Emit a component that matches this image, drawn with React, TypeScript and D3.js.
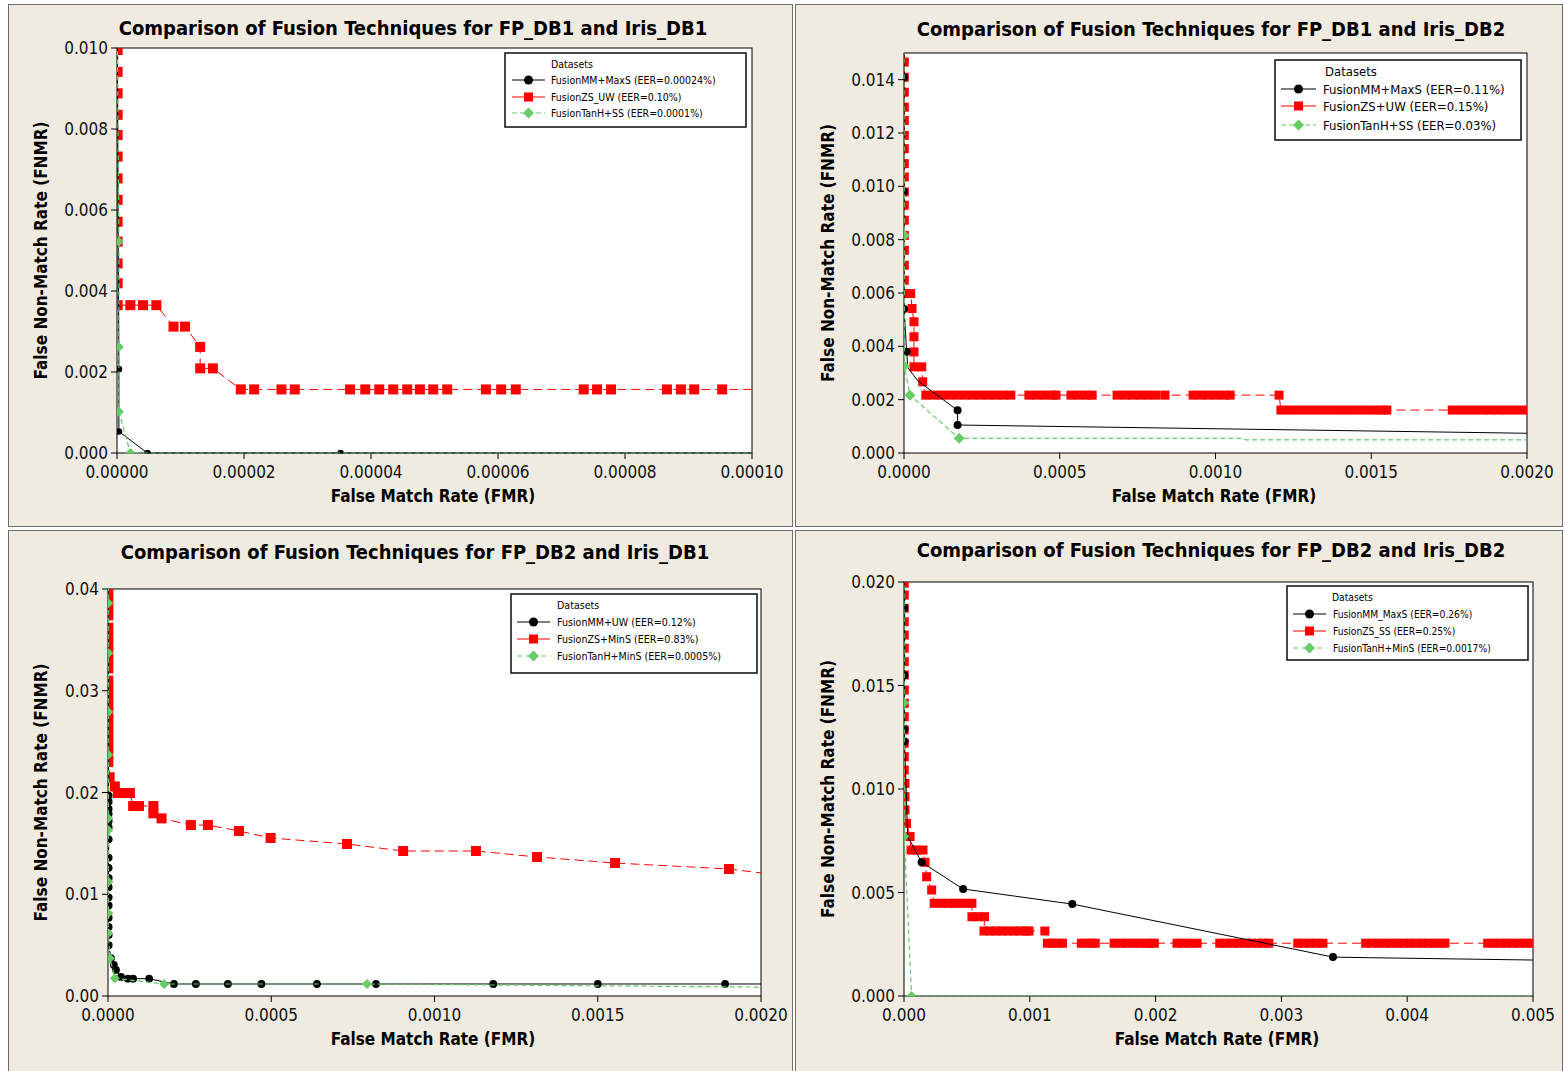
import React from "react";
import * as d3 from "d3";

type Pt = [number, number, number]; // [FMR, FNMR, marker shown]

// ---------------- Panel 1 : FP_DB1 / Iris_DB1 ----------------
const p1Title = "Comparison of Fusion Techniques for FP_DB1 and Iris_DB1";
const p1XTicks = [0, 0.00002, 0.00004, 0.00006, 0.00008, 0.0001];
const p1YTicks = [0, 0.002, 0.004, 0.006, 0.008, 0.01];
const p1Names = ["FusionMM+MaxS (EER=0.00024%)", "FusionZS_UW (EER=0.10%)", "FusionTanH+SS (EER=0.0001%)"];
const p1Black: Pt[] = [
  [0, 0.0115, 0], [0.0000003, 0.00207, 1], [0.0000003, 0.00053, 1], [0.0000048, 0, 1], [0.0000352, 0, 1], [0.00012, 0, 0],
];
const p1Red: Pt[] = [
  [0.0000001, 0.0105, 0], [0.0000001, 0.00995, 1], [0.0000001, 0.00941, 1], [0.0000001, 0.00888, 1], [0.0000001, 0.00835, 1],
  [0.0000001, 0.00785, 1], [0.0000001, 0.00732, 1], [0.0000001, 0.00678, 1], [0.0000001, 0.00625, 1], [0.0000001, 0.00571, 1],
  [0.0000001, 0.00522, 1], [0.0000001, 0.00468, 1], [0.0000001, 0.00419, 1], [0.0000001, 0.00365, 1],
  [0.0000021, 0.00365, 1], [0.0000041, 0.00365, 1], [0.0000062, 0.00365, 1],
  [0.0000089, 0.00312, 1], [0.0000107, 0.00312, 1], [0.0000131, 0.00262, 1], [0.0000131, 0.00209, 1], [0.0000151, 0.00209, 1],
  [0.0000195, 0.00157, 1], [0.0000216, 0.00157, 1], [0.0000259, 0.00157, 1], [0.000028, 0.00157, 1],
  [0.0000367, 0.00157, 1], [0.0000391, 0.00157, 1], [0.0000413, 0.00157, 1], [0.0000435, 0.00157, 1],
  [0.0000457, 0.00157, 1], [0.0000477, 0.00157, 1], [0.0000498, 0.00157, 1], [0.000052, 0.00157, 1],
  [0.0000581, 0.00157, 1], [0.0000605, 0.00157, 1], [0.0000628, 0.00157, 1],
  [0.0000735, 0.00157, 1], [0.0000756, 0.00157, 1], [0.0000778, 0.00157, 1],
  [0.0000866, 0.00157, 1], [0.0000888, 0.00157, 1], [0.0000909, 0.00157, 1], [0.0000953, 0.00157, 1],
  [0.00011, 0.00157, 0],
];
const p1Green: Pt[] = [
  [0, 0.0115, 0], [0.0000003, 0.00522, 1], [0.0000003, 0.00262, 1], [0.0000003, 0.00102, 1], [0.0000021, 0, 1], [0.00012, 0, 0],
];

// ---------------- Panel 2 : FP_DB1 / Iris_DB2 ----------------
const p2Title = "Comparison of Fusion Techniques for FP_DB1 and Iris_DB2";
const p2XTicks = [0, 0.0005, 0.001, 0.0015, 0.002];
const p2YTicks = [0, 0.002, 0.004, 0.006, 0.008, 0.01, 0.012, 0.014];
const p2Names = ["FusionMM+MaxS (EER=0.11%)", "FusionZS+UW (EER=0.15%)", "FusionTanH+SS (EER=0.03%)"];
const p2Black: Pt[] = [
  [0, 0.016, 0], [0.0000002, 0.01409, 1], [0.0000002, 0.0098, 1], [0.0000002, 0.0054, 1], [0.0000086, 0.0038, 1],
  [0.000012, 0.0032, 0], [0.000045, 0.0027, 0], [0.000172, 0.0016, 1], [0.000172, 0.00105, 1], [0.0025, 0.000655, 0],
];
const p2Red: Pt[] = [
  [0.000001, 0.0155, 0], [0.000001, 0.01466, 1], [0.000001, 0.01409, 1], [0.000001, 0.01353, 1], [0.000001, 0.01297, 1],
  [0.000001, 0.01247, 1], [0.000001, 0.01191, 1], [0.000001, 0.01141, 1], [0.000001, 0.01085, 1], [0.000001, 0.01035, 1],
  [0.000001, 0.00979, 1], [0.000001, 0.00929, 1], [0.000001, 0.00873, 1], [0.000001, 0.00816, 1], [0.000001, 0.0076, 1],
  [0.000001, 0.00704, 1], [0.000001, 0.00648, 1], [0.000001, 0.00598, 1],
  [0.0000215, 0.00598, 1], [0.0000257, 0.00542, 1], [0.000032, 0.00492, 1], [0.000032, 0.00436, 1], [0.000032, 0.00379, 1],
  [0.000032, 0.00323, 1], [0.0000568, 0.00323, 1], [0.00006, 0.00267, 1], [0.00007, 0.00217, 1],
  [0.000095, 0.00217, 1], [0.00012, 0.00217, 1], [0.000145, 0.00217, 1], [0.00017, 0.00217, 1], [0.000195, 0.00217, 1],
  [0.00022, 0.00217, 1], [0.000245, 0.00217, 1], [0.00027, 0.00217, 1], [0.000295, 0.00217, 1], [0.00032, 0.00217, 1],
  [0.000343, 0.00217, 1],
  [0.000401, 0.00217, 1], [0.000426, 0.00217, 1], [0.000451, 0.00217, 1], [0.000476, 0.00217, 1], [0.000488, 0.00217, 1],
  [0.000536, 0.00217, 1], [0.00056, 0.00217, 1], [0.000585, 0.00217, 1], [0.000604, 0.00217, 1],
  [0.000684, 0.00217, 1], [0.000709, 0.00217, 1], [0.000734, 0.00217, 1], [0.000759, 0.00217, 1], [0.000784, 0.00217, 1],
  [0.000809, 0.00217, 1], [0.000838, 0.00217, 1],
  [0.000928, 0.00217, 1], [0.000953, 0.00217, 1], [0.000978, 0.00217, 1], [0.001003, 0.00217, 1], [0.001028, 0.00217, 1],
  [0.001047, 0.00217, 1],
  [0.001204, 0.00217, 1],
  [0.00121, 0.00161, 1], [0.001235, 0.00161, 1], [0.00126, 0.00161, 1], [0.001285, 0.00161, 1], [0.00131, 0.00161, 1],
  [0.001335, 0.00161, 1], [0.00136, 0.00161, 1], [0.001385, 0.00161, 1], [0.00141, 0.00161, 1], [0.001435, 0.00161, 1],
  [0.00146, 0.00161, 1], [0.001485, 0.00161, 1], [0.00151, 0.00161, 1], [0.001535, 0.00161, 1], [0.00155, 0.00161, 1],
  [0.00176, 0.00161, 1], [0.001785, 0.00161, 1], [0.00181, 0.00161, 1], [0.001835, 0.00161, 1], [0.00186, 0.00161, 1],
  [0.001885, 0.00161, 1], [0.00191, 0.00161, 1], [0.001935, 0.00161, 1], [0.00196, 0.00161, 1], [0.001985, 0.00161, 1],
  [0.00201, 0.00161, 1], [0.0021, 0.00161, 0],
];
const p2Green: Pt[] = [
  [0, 0.016, 0], [0.000001, 0.00816, 1], [0.000001, 0.00326, 1], [0.000019, 0.00217, 1], [0.000177, 0.00055, 1],
  [0.00108, 0.00055, 0], [0.0011, 0.00049, 0], [0.0025, 0.00049, 0],
];

// ---------------- Panel 3 : FP_DB2 / Iris_DB1 ----------------
const p3Title = "Comparison of Fusion Techniques for FP_DB2 and Iris_DB1";
const p3XTicks = [0, 0.0005, 0.001, 0.0015, 0.002];
const p3YTicks = [0, 0.01, 0.02, 0.03, 0.04];
const p3Names = ["FusionMM+UW (EER=0.12%)", "FusionZS+MinS (EER=0.83%)", "FusionTanH+MinS (EER=0.0005%)"];
const p3Black: Pt[] = [
  [0, 0.045, 0], [0.000002, 0.0197, 1], [0.000002, 0.0191, 1], [0.000002, 0.0184, 1], [0.000002, 0.0179, 1],
  [0.000002, 0.0172, 1], [0.000002, 0.0166, 1], [0.000002, 0.0154, 1], [0.000002, 0.0136, 1], [0.000002, 0.0126, 1],
  [0.000002, 0.0116, 1], [0.000002, 0.0107, 1], [0.000002, 0.0097, 1], [0.000002, 0.0089, 1], [0.000002, 0.0077, 1],
  [0.000002, 0.0068, 1], [0.000002, 0.006, 1], [0.000002, 0.005, 1],
  [0.0000092, 0.00373, 1], [0.000018, 0.00305, 1], [0.0000245, 0.00256, 1], [0.00004, 0.00187, 1],
  [0.000061, 0.0017, 1], [0.000077, 0.0017, 1], [0.000126, 0.0017, 1],
  [0.000202, 0.00118, 1], [0.000269, 0.00118, 1], [0.000367, 0.00118, 1], [0.00047, 0.00118, 1], [0.00064, 0.00118, 1],
  [0.000821, 0.00118, 1], [0.00118, 0.00118, 1], [0.0015, 0.00118, 1], [0.00189, 0.00118, 1], [0.0025, 0.00118, 0],
];
const p3Red: Pt[] = [
  [0.000001, 0.0415, 0], [0.000001, 0.0398, 1], [0.000001, 0.039, 1], [0.000001, 0.0382, 1], [0.000001, 0.0374, 1],
  [0.000001, 0.0362, 1], [0.000001, 0.0354, 1], [0.000001, 0.0346, 1], [0.000001, 0.0338, 1], [0.000001, 0.033, 1],
  [0.000001, 0.0322, 1], [0.000001, 0.031, 1], [0.000001, 0.0302, 1], [0.000001, 0.0294, 1], [0.000001, 0.0286, 1],
  [0.000001, 0.0278, 1], [0.000001, 0.027, 1], [0.000001, 0.0262, 1], [0.000001, 0.0254, 1], [0.000001, 0.0246, 1],
  [0.000001, 0.0238, 1], [0.000001, 0.023, 1],
  [0.000005, 0.0215, 1], [0.000021, 0.0206, 1], [0.00003, 0.01995, 1], [0.000052, 0.01995, 1], [0.000067, 0.01995, 1],
  [0.000077, 0.01867, 1], [0.000095, 0.01867, 1], [0.000139, 0.01867, 1], [0.000139, 0.01795, 1], [0.000164, 0.01746, 1],
  [0.000254, 0.0168, 1], [0.000306, 0.0168, 1], [0.000401, 0.01622, 1], [0.000498, 0.01553, 1], [0.000732, 0.01494, 1],
  [0.000904, 0.01425, 1], [0.001127, 0.01425, 1], [0.001314, 0.01366, 1], [0.001553, 0.01307, 1], [0.001902, 0.01248, 1],
  [0.0021, 0.0117, 0],
];
const p3Green: Pt[] = [
  [0, 0.045, 0], [0.000001, 0.0386, 1], [0.000001, 0.0337, 1], [0.000001, 0.0279, 1], [0.000001, 0.0237, 1],
  [0.000001, 0.01746, 1], [0.000001, 0.01631, 1], [0.000001, 0.01123, 1], [0.000001, 0.00813, 1], [0.000001, 0.00616, 1],
  [0.000006, 0.0037, 1], [0.000021, 0.00174, 1], [0.000172, 0.00118, 1], [0.000793, 0.00118, 1],
  [0.0009, 0.00115, 0], [0.0025, 0.00075, 0],
];

// ---------------- Panel 4 : FP_DB2 / Iris_DB2 ----------------
const p4Title = "Comparison of Fusion Techniques for FP_DB2 and Iris_DB2";
const p4XTicks = [0, 0.001, 0.002, 0.003, 0.004, 0.005];
const p4YTicks = [0, 0.005, 0.01, 0.015, 0.02];
const p4Names = ["FusionMM_MaxS (EER=0.26%)", "FusionZS_SS (EER=0.25%)", "FusionTanH+MinS (EER=0.0017%)"];
const p4Black: Pt[] = [
  [0, 0.021, 0], [0.000004, 0.01874, 1], [0.000004, 0.0155, 1], [0.000004, 0.0129, 1], [0.000004, 0.0123, 1],
  [0.00003, 0.0077, 0], [0.00014, 0.00646, 1], [0.00047, 0.00517, 1], [0.001338, 0.00444, 1], [0.00341, 0.00188, 1],
  [0.0037, 0.00185, 0], [0.0052, 0.00172, 0],
];
const p4Red: Pt[] = [
  [0.000002, 0.021, 0], [0.000002, 0.01994, 1], [0.000002, 0.01937, 1], [0.000002, 0.01873, 1], [0.000002, 0.01808, 1],
  [0.000002, 0.01744, 1], [0.000002, 0.0168, 1], [0.000002, 0.01615, 1], [0.000002, 0.01551, 1], [0.000002, 0.01478, 1],
  [0.000002, 0.01414, 1], [0.000002, 0.01349, 1], [0.000002, 0.01285, 1], [0.000002, 0.01221, 1], [0.000002, 0.01156, 1],
  [0.000002, 0.01092, 1], [0.000008, 0.01027, 1], [0.000008, 0.00963, 1], [0.000008, 0.00899, 1], [0.00002, 0.00834, 1],
  [0.000048, 0.0077, 1],
  [0.000056, 0.00705, 1], [0.0001, 0.00705, 1], [0.000151, 0.00705, 1],
  [0.000167, 0.00646, 1], [0.00018, 0.00576, 1], [0.00022, 0.00512, 1],
  [0.00024, 0.00448, 1], [0.000295, 0.00448, 1], [0.00035, 0.00448, 1], [0.0004, 0.00448, 1], [0.00045, 0.00448, 1],
  [0.0005, 0.00448, 1], [0.00054, 0.00448, 1],
  [0.00054, 0.00383, 1], [0.00059, 0.00383, 1], [0.00064, 0.00383, 1],
  [0.000636, 0.00314, 1], [0.000684, 0.00314, 1], [0.000731, 0.00314, 1], [0.000779, 0.00314, 1], [0.000827, 0.00314, 1],
  [0.000874, 0.00314, 1], [0.000922, 0.00314, 1], [0.00097, 0.00314, 1], [0.000994, 0.00314, 1], [0.00112, 0.00314, 1],
  [0.00114, 0.00255, 1], [0.00118, 0.00255, 1], [0.00122, 0.00255, 1], [0.00126, 0.00255, 1],
  [0.00141, 0.00255, 1], [0.00145, 0.00255, 1], [0.00149, 0.00255, 1], [0.00152, 0.00255, 1],
  [0.00167, 0.00255, 1], [0.00172, 0.00255, 1], [0.00177, 0.00255, 1], [0.00182, 0.00255, 1], [0.00187, 0.00255, 1],
  [0.00192, 0.00255, 1], [0.00196, 0.00255, 1], [0.00199, 0.00255, 1],
  [0.00217, 0.00255, 1], [0.00222, 0.00255, 1], [0.00227, 0.00255, 1], [0.00233, 0.00255, 1],
  [0.00251, 0.00255, 1], [0.00256, 0.00255, 1], [0.00261, 0.00255, 1], [0.00266, 0.00255, 1], [0.00271, 0.00255, 1],
  [0.00276, 0.00255, 1], [0.00281, 0.00255, 1], [0.00286, 0.00255, 1], [0.0029, 0.00255, 1],
  [0.00313, 0.00255, 1], [0.00318, 0.00255, 1], [0.00323, 0.00255, 1], [0.00328, 0.00255, 1], [0.00333, 0.00255, 1],
  [0.00367, 0.00255, 1], [0.00372, 0.00255, 1], [0.00377, 0.00255, 1], [0.00382, 0.00255, 1], [0.00387, 0.00255, 1],
  [0.00392, 0.00255, 1], [0.00397, 0.00255, 1], [0.00402, 0.00255, 1], [0.00407, 0.00255, 1], [0.00412, 0.00255, 1],
  [0.00417, 0.00255, 1], [0.00422, 0.00255, 1], [0.00427, 0.00255, 1], [0.0043, 0.00255, 1],
  [0.00464, 0.00255, 1], [0.00469, 0.00255, 1], [0.00474, 0.00255, 1], [0.00479, 0.00255, 1], [0.00484, 0.00255, 1],
  [0.00489, 0.00255, 1], [0.00494, 0.00255, 1], [0.00499, 0.00255, 1], [0.00504, 0.00255, 1], [0.0052, 0.00255, 0],
];
const p4Green: Pt[] = [
  [0, 0.021, 0], [0.000002, 0.01417, 1], [0.000002, 0.0077, 1], [0.00006, 0, 1], [0.0052, 0, 0],
];

// ---------------- Styling / layout (not data) ----------------
const FONT = "'DejaVu Sans Condensed', 'DejaVu Sans', sans-serif";
const BLACK = "#000000";
const RED = "#FF0000";
const GREEN = "#66CC66";
const BG = "#EFEBE1";

interface LegendLayout {
  x: number; y: number; w: number; h: number; headX: number; headY: number;
  rows: number[]; lx1: number; lx2: number; tx: number; fs: number;
}
interface PanelCfg {
  id: string;
  title: string; names: string[];
  black: Pt[]; red: Pt[]; green: Pt[];
  xTicks: number[]; yTicks: number[]; xDigits: number; yDigits: number;
  xDomain: [number, number]; yDomain: [number, number];
  left: number; right: number; top: number; bottom: number;
  box: { x: number; y: number; w: number; h: number };
  titleX: number; titleY: number; xLabelX: number; yLabelX: number;
  legend: LegendLayout;
  r: number; sq: number; di: number;
}

const panels: PanelCfg[] = [
  {
    id: "p1", title: p1Title, names: p1Names, black: p1Black, red: p1Red, green: p1Green,
    xTicks: p1XTicks, yTicks: p1YTicks, xDigits: 5, yDigits: 3, xDomain: [0, 0.0001], yDomain: [0, 0.01],
    left: 117, right: 752, top: 48, bottom: 453, box: { x: 8, y: 4, w: 784, h: 522 },
    titleX: 413, titleY: 28, xLabelX: 433, yLabelX: 41,
    legend: { x: 505, y: 53, w: 241, h: 74, headX: 551, headY: 64, rows: [80, 97, 113], lx1: 512, lx2: 545, tx: 551, fs: 10.5 },
    r: 3.3, sq: 10, di: 9,
  },
  {
    id: "p2", title: p2Title, names: p2Names, black: p2Black, red: p2Red, green: p2Green,
    xTicks: p2XTicks, yTicks: p2YTicks, xDigits: 4, yDigits: 3, xDomain: [0, 0.002], yDomain: [0, 0.015],
    left: 904, right: 1527, top: 53, bottom: 453, box: { x: 795, y: 4, w: 767, h: 522 },
    titleX: 1211, titleY: 29, xLabelX: 1214, yLabelX: 828,
    legend: { x: 1275, y: 60, w: 246, h: 80, headX: 1325, headY: 71, rows: [89, 106, 125], lx1: 1281, lx2: 1316, tx: 1323, fs: 13 },
    r: 4, sq: 9, di: 10,
  },
  {
    id: "p3", title: p3Title, names: p3Names, black: p3Black, red: p3Red, green: p3Green,
    xTicks: p3XTicks, yTicks: p3YTicks, xDigits: 4, yDigits: 2, xDomain: [0, 0.002], yDomain: [0, 0.04],
    left: 108, right: 761, top: 589, bottom: 996, box: { x: 8, y: 530, w: 784, h: 545 },
    titleX: 415, titleY: 552, xLabelX: 433, yLabelX: 41,
    legend: { x: 511, y: 594, w: 246, h: 79, headX: 557, headY: 605, rows: [622, 639, 656], lx1: 517, lx2: 550, tx: 557, fs: 10.6 },
    r: 3.9, sq: 10, di: 9,
  },
  {
    id: "p4", title: p4Title, names: p4Names, black: p4Black, red: p4Red, green: p4Green,
    xTicks: p4XTicks, yTicks: p4YTicks, xDigits: 3, yDigits: 3, xDomain: [0, 0.005], yDomain: [0, 0.02],
    left: 904, right: 1533, top: 582, bottom: 996, box: { x: 795, y: 530, w: 767, h: 545 },
    titleX: 1211, titleY: 550, xLabelX: 1217, yLabelX: 828,
    legend: { x: 1287, y: 586, w: 241, h: 74, headX: 1332, headY: 597, rows: [614, 631, 648], lx1: 1293, lx2: 1326, tx: 1333, fs: 10.2 },
    r: 4, sq: 9, di: 9,
  },
];

function Marker({ kind, cx, cy, r, sq, di }: { kind: number; cx: number; cy: number; r: number; sq: number; di: number }) {
  if (kind === 0) return <circle cx={cx} cy={cy} r={r} fill={BLACK} />;
  if (kind === 1) return <rect x={cx - sq / 2} y={cy - sq / 2} width={sq} height={sq} fill={RED} />;
  const h = di / 2 + 0.5;
  return <path d={`M${cx},${cy - h}L${cx + h},${cy}L${cx},${cy + h}L${cx - h},${cy}Z`} fill={GREEN} />;
}

function Panel({ cfg }: { cfg: PanelCfg }) {
  const x = d3.scaleLinear().domain(cfg.xDomain).range([cfg.left, cfg.right]);
  const y = d3.scaleLinear().domain(cfg.yDomain).range([cfg.bottom, cfg.top]);
  const line = d3.line<Pt>().x((d) => x(d[0])).y((d) => y(d[1]));
  const clipId = `clip-${cfg.id}`;
  const series = [
    { data: cfg.red, kind: 1, color: RED, dash: "9 5", width: 1 },
    { data: cfg.black, kind: 0, color: BLACK, dash: "", width: 1 },
    { data: cfg.green, kind: 2, color: GREEN, dash: "5 3", width: 1.2 },
  ];
  const legendSeries = [
    { kind: 0, color: BLACK, dash: "" },
    { kind: 1, color: RED, dash: "" },
    { kind: 2, color: GREEN, dash: "5 3" },
  ];
  const L = cfg.legend;
  const midY = (cfg.top + cfg.bottom) / 2;
  return (
    <g>
      <rect x={cfg.box.x + 0.5} y={cfg.box.y + 0.5} width={cfg.box.w} height={cfg.box.h} fill={BG} stroke="#6e6e6e" strokeWidth={1} />
      <defs>
        <clipPath id={clipId}>
          <rect x={cfg.left} y={cfg.top} width={cfg.right - cfg.left} height={cfg.bottom - cfg.top + 0.5} />
        </clipPath>
      </defs>
      <rect x={cfg.left} y={cfg.top} width={cfg.right - cfg.left} height={cfg.bottom - cfg.top} fill="#FFFFFF" stroke={BLACK} strokeWidth={1} />
      {/* ticks */}
      {cfg.yTicks.map((t) => (
        <g key={`y${t}`}>
          <line x1={cfg.left - 6} x2={cfg.left} y1={y(t)} y2={y(t)} stroke={BLACK} strokeWidth={1} />
          <text x={cfg.left - 9} y={y(t)} textAnchor="end" dominantBaseline="central" fontFamily={FONT} fontSize={17} fill="#111">
            {t.toFixed(cfg.yDigits)}
          </text>
        </g>
      ))}
      {cfg.xTicks.map((t) => (
        <g key={`x${t}`}>
          <line x1={x(t)} x2={x(t)} y1={cfg.bottom} y2={cfg.bottom + 6} stroke={BLACK} strokeWidth={1} />
          <text x={x(t)} y={cfg.bottom + 19} textAnchor="middle" dominantBaseline="central" fontFamily={FONT} fontSize={17} fill="#111">
            {t.toFixed(cfg.xDigits)}
          </text>
        </g>
      ))}
      {/* data */}
      <g clipPath={`url(#${clipId})`}>
        {series.map((s, i) => (
          <g key={i}>
            <path d={line(s.data) || ""} fill="none" stroke={s.color} strokeWidth={s.width} strokeDasharray={s.dash || undefined} />
            {s.data.filter((d) => d[2] === 1).map((d, j) => (
              <Marker key={j} kind={s.kind} cx={x(d[0])} cy={y(d[1])} r={cfg.r} sq={cfg.sq} di={cfg.di} />
            ))}
          </g>
        ))}
      </g>
      {/* titles */}
      <text x={cfg.titleX} y={cfg.titleY} textAnchor="middle" dominantBaseline="central" fontFamily={FONT} fontWeight="bold" fontSize={20} fill="#000">
        {cfg.title}
      </text>
      <text x={cfg.xLabelX} y={cfg.bottom + 43} textAnchor="middle" dominantBaseline="central" fontFamily={FONT} fontWeight="bold" fontSize={17} fill="#000">
        False Match Rate (FMR)
      </text>
      <text transform={`translate(${cfg.yLabelX},${midY}) rotate(-90)`} textAnchor="middle" dominantBaseline="central" fontFamily={FONT} fontWeight="bold" fontSize={17} fill="#000">
        False Non-Match Rate (FNMR)
      </text>
      {/* legend */}
      <rect x={L.x} y={L.y} width={L.w} height={L.h} fill="#FFFFFF" stroke="#1a1a1a" strokeWidth={1.6} />
      <text x={L.headX} y={L.headY} dominantBaseline="central" fontFamily={FONT} fontSize={L.fs} fill="#000">Datasets</text>
      {legendSeries.map((s, i) => (
        <g key={i}>
          <line x1={L.lx1} x2={L.lx2} y1={L.rows[i]} y2={L.rows[i]} stroke={s.color} strokeWidth={1.2} strokeDasharray={s.dash || undefined} />
          <Marker kind={s.kind} cx={(L.lx1 + L.lx2) / 2} cy={L.rows[i]} r={4.5} sq={9} di={10} />
          <text x={L.tx} y={L.rows[i]} dominantBaseline="central" fontFamily={FONT} fontSize={L.fs} fill="#000">
            {cfg.names[i]}
          </text>
        </g>
      ))}
    </g>
  );
}

export default function App() {
  return (
    <svg width={1565} height={1071} viewBox="0 0 1565 1071" style={{ position: "absolute", left: 0, top: 0, display: "block", background: "#FFFFFF" }}>
      {panels.map((p) => (
        <Panel key={p.id} cfg={p} />
      ))}
    </svg>
  );
}
